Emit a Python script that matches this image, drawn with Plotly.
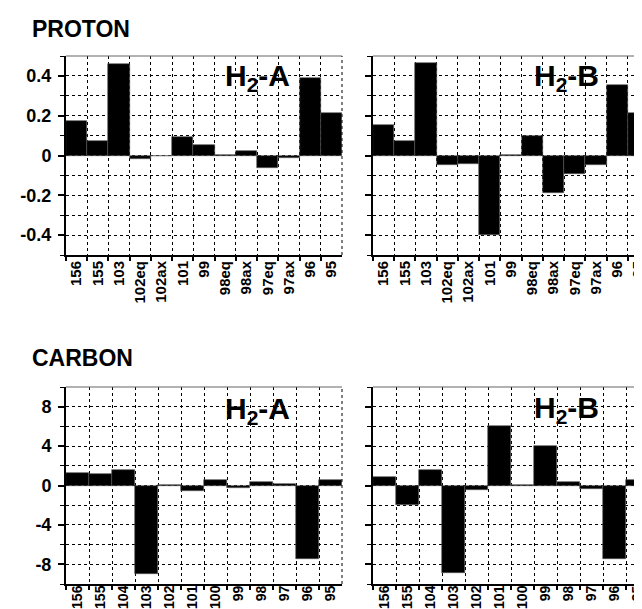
import plotly.graph_objects as go

W, H = 642, 609

proton_labels = ["156", "155", "103", "102eq", "102ax", "101", "99", "98eq",
                 "98ax", "97eq", "97ax", "96", "95"]
proton_A = [0.175, 0.075, 0.46, -0.02, -0.004, 0.095, 0.055, 0.003,
            0.025, -0.062, -0.013, 0.39, 0.215]
proton_B = [0.153, 0.073, 0.466, -0.05, -0.042, -0.40, 0.003, 0.097,
            -0.186, -0.093, -0.05, 0.356, 0.214]
proton_ticks = [-0.4, -0.2, 0, 0.2, 0.4]
proton_ticktext = ["-0.4", "-0.2", "0", "0.2", "0.4"]

carbon_labels = ["156", "155", "104", "103", "102", "101", "100", "99",
                 "98", "97", "96", "95"]
carbon_A = [1.26, 1.16, 1.6, -8.95, 0.1, -0.54, 0.58, -0.27, 0.34, 0.15, -7.5, 0.58]
carbon_B = [0.82, -1.98, 1.6, -8.87, -0.44, 6.04, 0.05, 4.03, 0.34, -0.34, -7.5, 0.55]
carbon_ticks = [-8, -4, 0, 4, 8]
carbon_ticktext = ["-8", "-4", "0", "4", "8"]

FONT = "Liberation Sans, Arial, Helvetica, sans-serif"


def px(x):
    return x / W


def py(y):
    return 1 - y / H


fig = go.Figure()
panels = [
    (proton_labels, proton_A, "x", "y"),
    (proton_labels, proton_B, "x2", "y2"),
    (carbon_labels, carbon_A, "x3", "y3"),
    (carbon_labels, carbon_B, "x4", "y4"),
]
for labels, vals, xa, ya in panels:
    fig.add_trace(go.Bar(x=labels, y=vals, xaxis=xa, yaxis=ya,
                         marker=dict(color="black", line=dict(color="#555", width=0.6)),
                         showlegend=False))

xdom_L = [px(58), px(334)]
xdom_R = [px(365), px(641)]
ydom_T = [py(247), py(48)]
ydom_B = [py(576), py(379)]


def xcommon(standoff, size):
    return dict(type="category", tickson="boundaries", ticks="outside", ticklen=4,
                tickwidth=1.5, tickcolor="black", showline=True, linecolor="black",
                linewidth=2, showgrid=True, gridcolor="black", griddash="dot",
                gridwidth=1, tickangle=-90, ticklabelstandoff=standoff,
                tickfont=dict(family=FONT, size=size, color="black", weight="bold"),
                fixedrange=True)


def ycommon(rng, tv, tt, minor_dtick, labels_on):
    return dict(range=rng, tickmode="array", tickvals=tv, ticktext=tt,
                ticks="outside", ticklen=6, ticklabelstandoff=3,
                tickwidth=2, tickcolor="black", showline=True, linecolor="black",
                linewidth=2, showgrid=True, gridcolor="black", griddash="dot",
                gridwidth=1, zeroline=False, showticklabels=labels_on,
                tickfont=dict(family=FONT, size=18, color="black", weight="bold"),
                minor=dict(dtick=minor_dtick, tick0=0, showgrid=True, gridcolor="black",
                           griddash="dot", gridwidth=1, ticks="outside", ticklen=4,
                           tickcolor="black", tickwidth=1),
                fixedrange=True)


fig.update_layout(
    width=W, height=H,
    margin=dict(l=0, r=0, t=0, b=0),
    paper_bgcolor="white", plot_bgcolor="white",
    bargap=0,
    xaxis=dict(domain=xdom_L, anchor="y", **xcommon(-2, 15)),
    xaxis2=dict(domain=xdom_R, anchor="y2", **xcommon(-2, 15)),
    xaxis3=dict(domain=xdom_L, anchor="y3", **xcommon(-6, 14)),
    xaxis4=dict(domain=xdom_R, anchor="y4", **xcommon(-6, 14)),
    yaxis=dict(domain=ydom_T, anchor="x",
               **ycommon([-0.5, 0.5], proton_ticks, proton_ticktext, 0.1, True)),
    yaxis2=dict(domain=ydom_T, anchor="x2",
                **ycommon([-0.5, 0.5], proton_ticks, proton_ticktext, 0.1, False)),
    yaxis3=dict(domain=ydom_B, anchor="x3",
                **ycommon([-10, 10], carbon_ticks, carbon_ticktext, 2, True)),
    yaxis4=dict(domain=ydom_B, anchor="x4",
                **ycommon([-10, 10], carbon_ticks, carbon_ticktext, 2, False)),
)

# top borders (thin gray solid) and right borders (dotted)
for xd, yd in [(xdom_L, ydom_T), (xdom_R, ydom_T), (xdom_L, ydom_B), (xdom_R, ydom_B)]:
    fig.add_shape(type="line", xref="paper", yref="paper", x0=xd[0], x1=xd[1],
                  y0=yd[1], y1=yd[1], line=dict(color="#666", width=1.2))
    fig.add_shape(type="line", xref="paper", yref="paper", x0=xd[1], x1=xd[1],
                  y0=yd[0], y1=yd[1], line=dict(color="black", width=1, dash="dot"))

# section titles
for txt, y in [("PROTON", 21), ("CARBON", 350)]:
    fig.add_annotation(text=txt, xref="paper", yref="paper", x=px(22), y=py(y),
                       xanchor="left", yanchor="middle", showarrow=False,
                       font=dict(family=FONT, size=23, color="black", weight="bold"))

# panel labels
for txt, x, y in [("H<sub>2</sub>-A", 249, 70), ("H<sub>2</sub>-B", 558, 70),
                  ("H<sub>2</sub>-A", 249, 402), ("H<sub>2</sub>-B", 558, 401)]:
    fig.add_annotation(text=txt, xref="paper", yref="paper", x=px(x), y=py(y),
                       xanchor="center", yanchor="middle", showarrow=False,
                       font=dict(family=FONT, size=30, color="black", weight="bold"))

fig.write_html("out.html")
